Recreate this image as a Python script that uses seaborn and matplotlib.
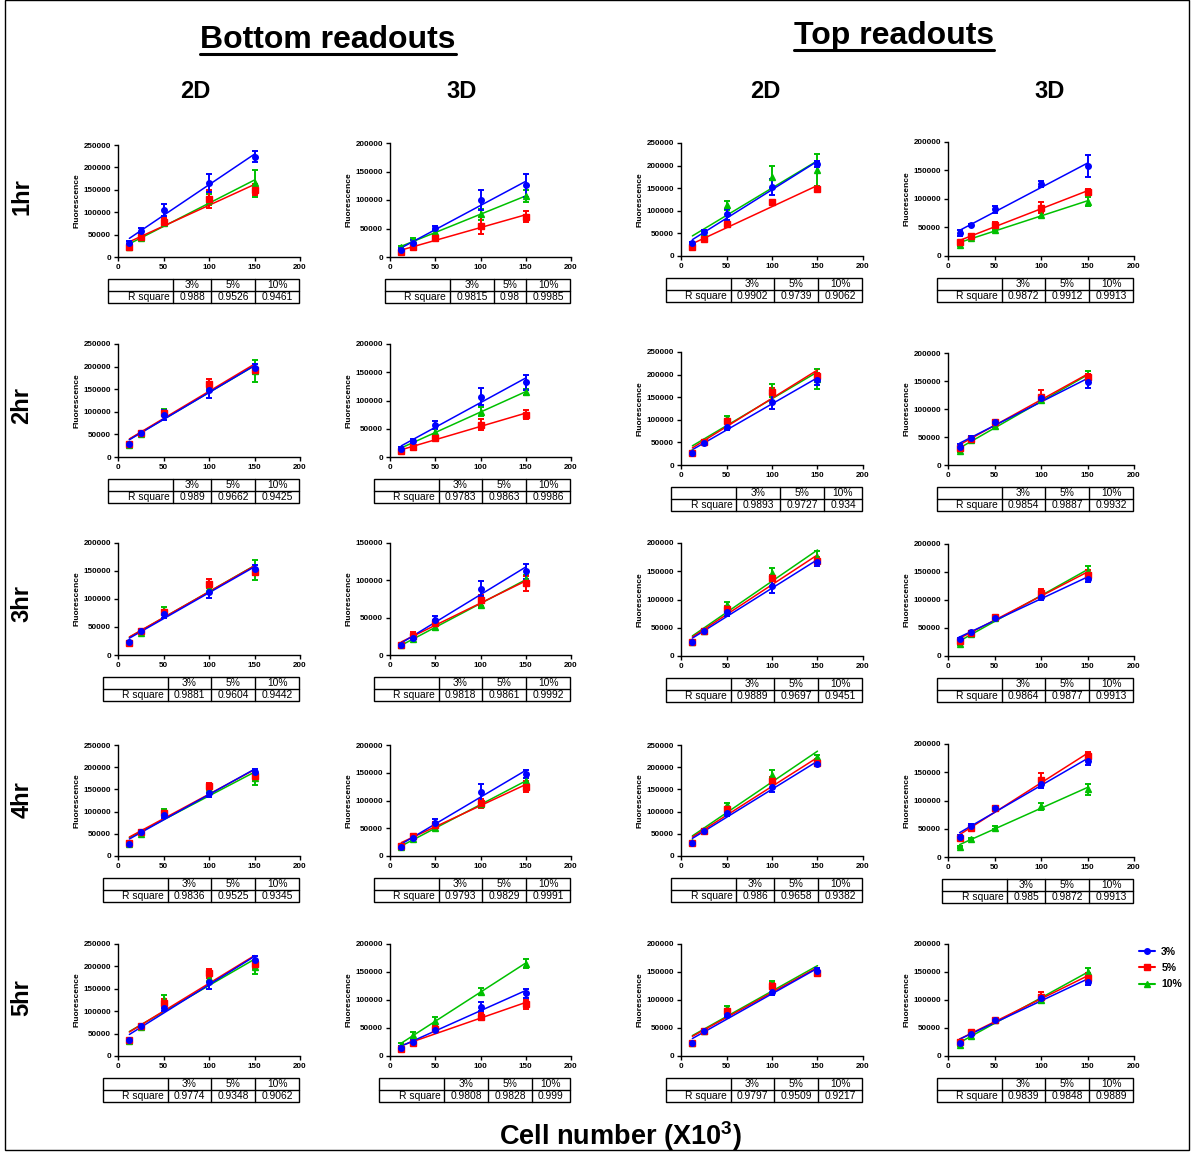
import numpy as np
import pandas as pd
import matplotlib
matplotlib.use("Agg")
import matplotlib.pyplot as plt
from matplotlib.lines import Line2D
from matplotlib.patches import Rectangle
import matplotlib.transforms as mtransforms
import seaborn as sns

# DATA -------------------------------------------------------------
cells = [12.5, 25, 50, 100, 150]
concentrations = ["3%", "5%", "10%"]
row_names = ["1hr", "2hr", "3hr", "4hr", "5hr"]
col_names = ["2D", "3D", "2D", "3D"]

# panels in order row by row: Bottom 2D, Bottom 3D, Top 2D, Top 3D
mean_3 = [
    [32000, 58000, 105000, 165000, 224000], [12000, 25000, 51000, 100000, 126000],
    [28000, 52000, 92000, 152000, 204000], [40000, 55000, 82000, 126000, 158000],
    [29000, 53000, 93000, 148000, 196000], [15000, 28000, 57000, 107000, 132000],
    [26000, 49000, 85000, 140000, 188000], [33000, 49000, 76000, 119000, 149000],
    [23000, 42000, 73000, 113000, 154000], [13000, 23000, 47000, 89000, 112000],
    [24000, 45000, 77000, 124000, 166000], [30000, 43000, 68000, 105000, 138000],
    [28000, 53000, 93000, 142000, 190000], [17000, 33000, 60000, 115000, 148000],
    [30000, 57000, 96000, 155000, 208000], [36000, 55000, 87000, 130000, 170000],
    [35000, 66000, 108000, 165000, 215000], [15000, 25000, 47000, 88000, 112000],
    [23000, 44000, 73000, 115000, 152000], [24000, 40000, 65000, 103000, 133000],
]
err_3 = [
    [3000, 6000, 14000, 20000, 12000], [3000, 5000, 4000, 17000, 20000],
    [3000, 5000, 12000, 18000, 6000], [5000, 2000, 6000, 5000, 20000],
    [3000, 3000, 12000, 17000, 10000], [3000, 4000, 7000, 15000, 13000],
    [2000, 2000, 8000, 15000, 10000], [4000, 2000, 4000, 5000, 12000],
    [2000, 2000, 7000, 12000, 6000], [2000, 3000, 5000, 10000, 10000],
    [2000, 2000, 7000, 12000, 6000], [3000, 2000, 3000, 5000, 6000],
    [3000, 3000, 8000, 10000, 5000], [2000, 3000, 7000, 15000, 7000],
    [2000, 2000, 6000, 10000, 6000], [3000, 3000, 4000, 8000, 8000],
    [2000, 3000, 8000, 15000, 8000], [2000, 3000, 4000, 8000, 8000],
    [2000, 2000, 4000, 6000, 5000], [2000, 2000, 3000, 6000, 6000],
]
mean_5 = [
    [22000, 45000, 79000, 130000, 150000], [9000, 17000, 33000, 55000, 71000],
    [20000, 37000, 70000, 119000, 148000], [24000, 35000, 55000, 85000, 112000],
    [28000, 52000, 97000, 162000, 192000], [10000, 18000, 34000, 57000, 75000],
    [26000, 51000, 97000, 162000, 198000], [30000, 47000, 77000, 122000, 157000],
    [22000, 42000, 76000, 127000, 148000], [13000, 26000, 43000, 73000, 96000],
    [24000, 45000, 83000, 138000, 169000], [27000, 41000, 69000, 113000, 145000],
    [30000, 53000, 97000, 157000, 180000], [18000, 36000, 56000, 95000, 125000],
    [30000, 57000, 105000, 170000, 210000], [33000, 52000, 86000, 137000, 178000],
    [35000, 66000, 118000, 185000, 205000], [13000, 24000, 48000, 70000, 92000],
    [24000, 45000, 80000, 125000, 148000], [25000, 42000, 65000, 105000, 140000],
]
err_5 = [
    [5000, 5000, 8000, 20000, 12000], [2000, 3000, 3000, 15000, 10000],
    [2000, 2000, 3000, 3000, 4000], [3000, 3000, 4000, 10000, 5000],
    [3000, 3000, 5000, 10000, 8000], [2000, 3000, 3000, 10000, 8000],
    [2000, 2000, 4000, 8000, 6000], [3000, 2000, 3000, 12000, 6000],
    [2000, 2000, 5000, 8000, 6000], [2000, 5000, 4000, 8000, 10000],
    [2000, 2000, 5000, 6000, 6000], [3000, 2000, 2000, 6000, 8000],
    [3000, 3000, 5000, 8000, 10000], [2000, 3000, 5000, 8000, 10000],
    [2000, 2000, 5000, 8000, 8000], [3000, 3000, 4000, 12000, 8000],
    [2000, 3000, 10000, 10000, 10000], [2000, 3000, 5000, 6000, 8000],
    [2000, 2000, 4000, 6000, 5000], [3000, 2000, 2000, 10000, 8000],
]
mean_10 = [
    [22000, 42000, 75000, 128000, 165000], [17000, 29000, 43000, 75000, 107000],
    [28000, 50000, 112000, 175000, 190000], [20000, 32000, 46000, 72000, 95000],
    [26000, 50000, 100000, 155000, 190000], [15000, 25000, 45000, 80000, 115000],
    [28000, 52000, 104000, 165000, 190000], [25000, 44000, 70000, 116000, 158000],
    [23000, 40000, 79000, 120000, 152000], [13000, 22000, 37000, 67000, 102000],
    [24000, 45000, 91000, 147000, 175000], [22000, 39000, 67000, 109000, 152000],
    [27000, 50000, 100000, 150000, 175000], [17000, 30000, 50000, 93000, 135000],
    [31000, 58000, 115000, 182000, 222000], [18000, 32000, 52000, 90000, 120000],
    [33000, 65000, 125000, 175000, 198000], [20000, 38000, 63000, 115000, 165000],
    [24000, 45000, 85000, 128000, 150000], [20000, 36000, 65000, 100000, 150000],
]
err_10 = [
    [4000, 5000, 6000, 12000, 30000], [3000, 4000, 3000, 10000, 10000],
    [3000, 4000, 10000, 25000, 35000], [2000, 2000, 2000, 3000, 8000],
    [3000, 4000, 6000, 8000, 25000], [2000, 3000, 4000, 8000, 6000],
    [2000, 3000, 4000, 15000, 22000], [2000, 2000, 3000, 4000, 10000],
    [2000, 2000, 7000, 8000, 18000], [2000, 2000, 3000, 4000, 5000],
    [2000, 2000, 4000, 8000, 10000], [2000, 2000, 2000, 4000, 8000],
    [2000, 3000, 5000, 8000, 15000], [2000, 3000, 3000, 5000, 6000],
    [2000, 2000, 5000, 12000, 5000], [2000, 2000, 2000, 6000, 10000],
    [2000, 3000, 12000, 10000, 15000], [3000, 5000, 7000, 6000, 8000],
    [2000, 2000, 4000, 6000, 5000], [2000, 2000, 2000, 4000, 8000],
]
y_max = [
    250000, 200000, 250000, 200000,
    250000, 200000, 250000, 200000,
    200000, 150000, 200000, 200000,
    250000, 200000, 250000, 200000,
    250000, 200000, 200000, 200000,
]
r_square = [
    ["0.988", "0.9526", "0.9461"], ["0.9815", "0.98", "0.9985"],
    ["0.9902", "0.9739", "0.9062"], ["0.9872", "0.9912", "0.9913"],
    ["0.989", "0.9662", "0.9425"], ["0.9783", "0.9863", "0.9986"],
    ["0.9893", "0.9727", "0.934"], ["0.9854", "0.9887", "0.9932"],
    ["0.9881", "0.9604", "0.9442"], ["0.9818", "0.9861", "0.9992"],
    ["0.9889", "0.9697", "0.9451"], ["0.9864", "0.9877", "0.9913"],
    ["0.9836", "0.9525", "0.9345"], ["0.9793", "0.9829", "0.9991"],
    ["0.986", "0.9658", "0.9382"], ["0.985", "0.9872", "0.9913"],
    ["0.9774", "0.9348", "0.9062"], ["0.9808", "0.9828", "0.999"],
    ["0.9797", "0.9509", "0.9217"], ["0.9839", "0.9848", "0.9889"],
]

# STYLE -------------------------------------------------------------
sns.set_style("ticks")
plt.rcParams["font.family"] = ["Liberation Sans", "DejaVu Sans"]
plt.rcParams["mathtext.fontset"] = "custom"
plt.rcParams["mathtext.rm"] = "Liberation Sans"
plt.rcParams["mathtext.bf"] = "Liberation Sans:bold"
for key in ["text.color", "axes.labelcolor", "xtick.color", "ytick.color", "axes.edgecolor"]:
    plt.rcParams[key] = "black"

colors = {"3%": "#0000FF", "5%": "#FF0000", "10%": "#00C000"}
markers = {"3%": "o", "5%": "s", "10%": "^"}

W, H = 1192, 1153
fig = plt.figure(figsize=(W / 100, H / 100), dpi=100)
px = mtransforms.Affine2D().scale(1 / W, -1 / H).translate(0, 1) + fig.transFigure

# layout in pixels
col_left = [118, 390, 681, 948]
col_right = [300, 571, 863, 1134]
ax_top = [[145, 143, 143, 142], [344, 344, 352, 353], [543, 543, 543, 544],
          [745, 745, 745, 744], [944, 944, 944, 944]]
ax_bot = [[257, 257, 256, 256], [457, 457, 465, 465], [655, 655, 656, 656],
          [856, 856, 856, 857], [1056, 1056, 1056, 1056]]


def draw_table(right, top, vals):
    widths = [65] + [9 + 5.8 * len(v) for v in vals]
    left = right - sum(widths)
    rh = 12
    edges = np.concatenate([[left], left + np.cumsum(widths)])
    fig.add_artist(Rectangle((left, top), sum(widths), 2 * rh, transform=px,
                             fill=False, lw=1, ec="black"))
    fig.add_artist(Line2D([left, right], [top + rh, top + rh], transform=px,
                          lw=1, color="black"))
    for e in edges[1:-1]:
        fig.add_artist(Line2D([e, e], [top, top + 2 * rh], transform=px,
                              lw=1, color="black"))
    fig.text((edges[1] - 4) / W, 1 - (top + 1.5 * rh) / H, "R square",
             ha="right", va="center", fontsize=7.4)
    for i, (c, v) in enumerate(zip(concentrations, vals)):
        xc = (edges[i + 1] + edges[i + 2]) / 2
        fig.text(xc / W, 1 - (top + 0.5 * rh) / H, c, ha="center", va="center", fontsize=7.4)
        fig.text(xc / W, 1 - (top + 1.5 * rh) / H, v, ha="center", va="center", fontsize=7.4)


series = {"3%": (mean_3, err_3), "5%": (mean_5, err_5), "10%": (mean_10, err_10)}

for r in range(5):
    for c in range(4):
        k = r * 4 + c
        l, rr = col_left[c], col_right[c]
        t, b = ax_top[r][c], ax_bot[r][c]
        ax = fig.add_axes([l / W, 1 - b / H, (rr - l) / W, (b - t) / H])
        for conc in ["10%", "5%", "3%"]:
            m, e = series[conc]
            df = pd.DataFrame({"cells": cells, "fl": m[k], "err": e[k]})
            sns.regplot(data=df, x="cells", y="fl", ax=ax, ci=None, scatter=False,
                        color=colors[conc], line_kws={"lw": 1.1})
            ax.errorbar(df["cells"], df["fl"], yerr=df["err"], fmt=markers[conc],
                        color=colors[conc], ms=4, capsize=2, elinewidth=1.4,
                        capthick=1.4, lw=0)
        ax.set_xlim(0, 200)
        ax.set_ylim(0, y_max[k])
        ax.set_xticks([0, 50, 100, 150, 200])
        ax.set_yticks(np.arange(0, y_max[k] + 1, 50000))
        ax.set_xlabel("")
        ax.set_ylabel("Fluorescence", fontsize=6, fontweight="bold", labelpad=2)
        ax.tick_params(labelsize=5.8, length=3, width=1, pad=2)
        for lab in ax.get_xticklabels() + ax.get_yticklabels():
            lab.set_fontweight("bold")
        sns.despine(ax=ax)
        ax.spines["left"].set_linewidth(1)
        ax.spines["bottom"].set_linewidth(1)
        ax.patch.set_alpha(0)
        draw_table(rr - 1, b + 22, r_square[k])

# headings
t1 = fig.text(328 / W, 1 - 40 / H, "Bottom readouts", ha="center", va="center",
              fontsize=23, fontweight="bold")
t2 = fig.text(894 / W, 1 - 36 / H, "Top readouts", ha="center", va="center",
              fontsize=23, fontweight="bold")
for x, name in zip([195, 462, 765, 1050], col_names):
    fig.text(x / W, 1 - 92 / H, name, ha="center", va="center", fontsize=17, fontweight="bold")
for y, name in zip([197, 405, 603, 800, 998], row_names):
    fig.text(22 / W, 1 - y / H, name, ha="center", va="center", fontsize=17,
             fontweight="bold", rotation=90)
fig.text(620 / W, 1 - 1136 / H, r"Cell number (X10$^{\mathbf{3}}$)", ha="center",
         va="center", fontsize=19.5, fontweight="bold")

# underline the two headings
fig.canvas.draw()
inv = fig.transFigure.inverted()
for t in [t1, t2]:
    bb = t.get_window_extent()
    (x0, y0), (x1, y1) = inv.transform([[bb.x0, bb.y0], [bb.x1, bb.y1]])
    fig.add_artist(Line2D([x0, x1], [y0 + 0.001, y0 + 0.001], transform=fig.transFigure,
                          lw=2.2, color="black"))

# legend
handles = [Line2D([], [], color=colors[cc], marker=markers[cc], ms=4, lw=1.5)
           for cc in concentrations]
leg = fig.legend(handles, concentrations, loc="center left",
                 bbox_to_anchor=(1130 / W, 1 - 968 / H), frameon=False,
                 prop={"size": 7.5, "weight": "bold"}, handlelength=1.5,
                 labelspacing=0.6, handletextpad=0.6)

# outer frame
fig.add_artist(Rectangle((5, 0), 1184, 1150, transform=px, fill=False, lw=1, ec="black"))

fig.savefig("out.png", dpi=100)
